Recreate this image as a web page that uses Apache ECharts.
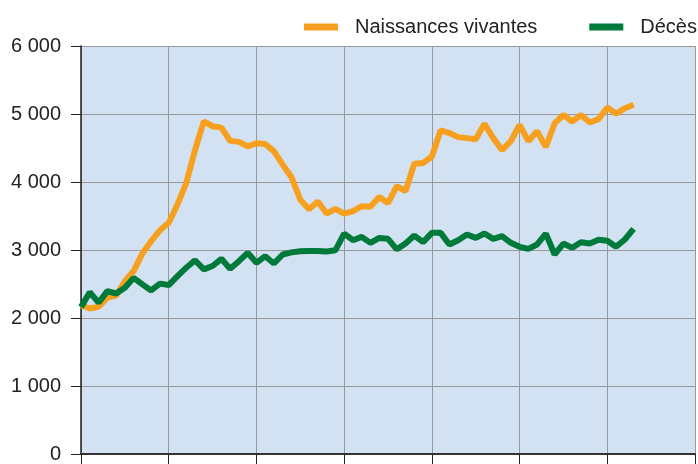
<!DOCTYPE html>
<html>
<head>
<meta charset="utf-8">
<script src="https://cdn.jsdelivr.net/npm/echarts@6/dist/echarts.min.js"></script>
<style>
  html, body { margin: 0; padding: 0; background: #fff; }
  #chart { width: 698px; height: 464px; }
</style>
</head>
<body>
<div id="chart"></div>
<script>
const startYear = 1950;
const years = Array.from({ length: 64 }, (_, i) => startYear + i);

const naissances = [
  2190, 2140, 2165, 2300, 2330, 2540, 2690, 2950, 3130, 3290,
  3400, 3670, 3985, 4470, 4890, 4820, 4800, 4605, 4590, 4525,
  4570, 4560, 4450, 4255, 4070, 3740, 3600, 3715, 3535, 3605,
  3535, 3570, 3645, 3635, 3780, 3690, 3940, 3865, 4270, 4280,
  4375, 4760, 4720, 4660, 4645, 4630, 4855, 4645, 4470, 4600,
  4840, 4600, 4745, 4515, 4865, 4985, 4890, 4985, 4875, 4925,
  5095, 5005, 5085, 5135
];

const deces = [
  2160, 2380, 2225, 2395, 2360, 2445, 2590, 2495, 2405, 2505,
  2485, 2615, 2740, 2850, 2715, 2765, 2870, 2725, 2836, 2958,
  2812, 2909, 2802, 2934, 2965, 2982, 2985, 2985, 2978, 2995,
  3242, 3144, 3193, 3105, 3178, 3164, 3010, 3095, 3213, 3115,
  3252, 3252, 3081, 3144, 3227, 3178, 3242, 3164, 3203, 3105,
  3047, 3017, 3081, 3242, 2934, 3095, 3032, 3115, 3095, 3150,
  3135, 3047, 3154, 3310
];

const seriesNames = ['Naissances vivantes', 'Décès'];

const chart = echarts.init(document.getElementById('chart'));

const fmt = v => String(v).replace(/\B(?=(\d{3})+(?!\d))/g, ' ');

const option = {
  backgroundColor: '#fff',
  animation: false,
  textStyle: { fontFamily: 'Liberation Sans, Arial, sans-serif' },
  legend: {
    left: 299,
    top: 12,
    width: 600,
    orient: 'horizontal',
    itemGap: 52,
    itemWidth: 34,
    itemHeight: 7,
    icon: 'rect',
    textStyle: { fontSize: 20, color: '#222', padding: [0, 0, 0, 12] },
    data: seriesNames
  },
  grid: {
    left: 81,
    right: 3,
    top: 46,
    bottom: 9,
    show: true,
    backgroundColor: '#d3e2f2',
    borderWidth: 0
  },
  xAxis: {
    type: 'value',
    min: 1950,
    max: 2020,
    interval: 10,
    axisLine: { lineStyle: { color: '#333', width: 2 } },
    axisTick: { show: true, inside: false, length: 10, lineStyle: { color: '#222' } },
    axisLabel: { show: false },
    splitLine: { show: true, lineStyle: { color: '#999', width: 1 } }
  },
  yAxis: {
    type: 'value',
    min: 0,
    max: 6000,
    interval: 1000,
    axisLine: { show: true, lineStyle: { color: '#222', width: 1.5 } },
    axisTick: { show: true, length: 10, lineStyle: { color: '#222' } },
    axisLabel: { fontSize: 20, color: '#222', margin: 20, formatter: fmt },
    splitLine: { show: true, lineStyle: { color: '#999', width: 1 } }
  },
  series: [
    {
      name: seriesNames[0],
      type: 'line',
      data: years.map((y, i) => [y, naissances[i]]),
      symbol: 'none',
      lineStyle: { width: 6, color: '#f7a01f' },
      itemStyle: { color: '#f7a01f' }
    },
    {
      name: seriesNames[1],
      type: 'line',
      data: years.map((y, i) => [y, deces[i]]),
      symbol: 'none',
      lineStyle: { width: 6, color: '#007a3a' },
      itemStyle: { color: '#007a3a' }
    }
  ]
};

chart.setOption(option);
</script>
</body>
</html>
